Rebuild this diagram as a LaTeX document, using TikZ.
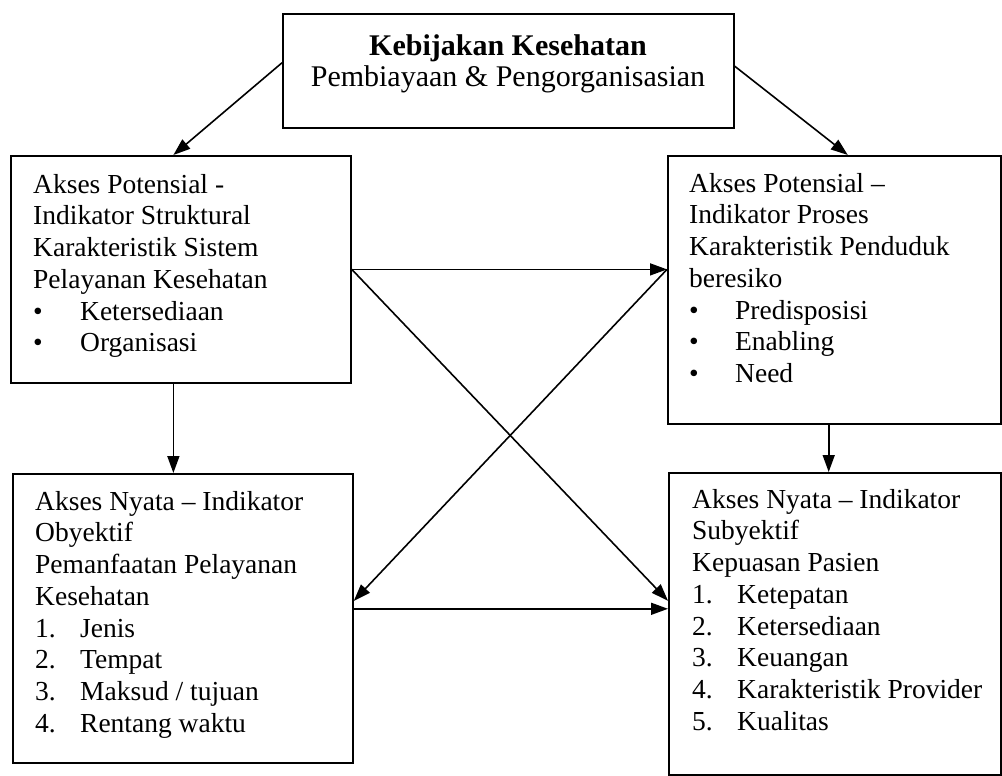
\documentclass[tikz,border=0pt]{standalone}
\usepackage{fontspec}
\setmainfont{Liberation Serif}
\usetikzlibrary{arrows.meta,calc}
\begin{document}
\begin{tikzpicture}[x=1pt,y=-1pt,
  box/.style={draw, line width=1.8pt, inner sep=0pt, anchor=north west},
  txt/.style={anchor=north west, inner sep=0pt, align=left, font=\fontsize{27.5}{31.7}\selectfont},
  toptxt/.style={anchor=north, inner sep=0pt, align=center, font=\fontsize{30}{31}\selectfont},
  conn/.style={line width=1.6pt, -{Triangle[length=17pt,width=12pt]}}]
\useasboundingbox[fill=white] (0,0) rectangle (1002,776);
% boxes
\node[box, minimum width=451pt, minimum height=114pt] (top) at (282,13) {};
\node[box, minimum width=340pt, minimum height=227pt] (tl) at (10,155) {};
\node[box, minimum width=333pt, minimum height=268pt] (tr) at (667,155) {};
\node[box, minimum width=340pt, minimum height=289pt] (bl) at (12,473) {};
\node[box, minimum width=332pt, minimum height=302pt] (br) at (668,472) {};
% texts
\node[toptxt] (toptext) at (508,34) {\textbf{Kebijakan Kesehatan}\\Pembiayaan \& Pengorganisasian};
\node[txt] (tltext) at (33,174) {Akses Potensial -\\Indikator Struktural\\Karakteristik Sistem\\Pelayanan Kesehatan\\\makebox[47pt][l]{\textbullet}Ketersediaan\\\makebox[47pt][l]{\textbullet}Organisasi};
\node[txt] (trtext) at (689,173) {Akses Potensial --\\Indikator Proses\\Karakteristik Penduduk\\beresiko\\\makebox[46pt][l]{\textbullet}Predisposisi\\\makebox[46pt][l]{\textbullet}Enabling\\\makebox[46pt][l]{\textbullet}Need};
\node[txt] (bltext) at (35,491) {Akses Nyata -- Indikator\\Obyektif\\Pemanfaatan Pelayanan\\Kesehatan\\\makebox[45pt][l]{1.}Jenis\\\makebox[45pt][l]{2.}Tempat\\\makebox[45pt][l]{3.}Maksud / tujuan\\\makebox[45pt][l]{4.}Rentang waktu};
\node[txt] (brtext) at (692,489) {Akses Nyata -- Indikator\\Subyektif\\Kepuasan Pasien\\\makebox[45pt][l]{1.}Ketepatan\\\makebox[45pt][l]{2.}Ketersediaan\\\makebox[45pt][l]{3.}Keuangan\\\makebox[45pt][l]{4.}Karakteristik Provider\\\makebox[45pt][l]{5.}Kualitas};
% connector points
\coordinate (topL) at ($(top.north west)!0.43!(top.south west)$);
\coordinate (topR) at ($(top.north east)!0.46!(top.south east)$);
\coordinate (tlIn) at ($(tl.north west)!0.478!(tl.north east)$);
\coordinate (trIn) at ($(tr.north west)!0.54!(tr.north east)$);
\coordinate (tlOut) at ($(tl.south west)!0.478!(tl.south east)$);
\coordinate (trOut) at ($(tr.south west)!0.483!(tr.south east)$);
\coordinate (tlR) at ($(tl.north east)!0.5!(tl.south east)$);
\coordinate (blR) at ($(bl.north east)!0.44!(bl.south east)$);
\coordinate (blR2) at ($(bl.north east)!0.467!(bl.south east)$);
\coordinate (brL) at ($(br.north west)!0.424!(br.south west)$);
% connectors
\draw[conn] (topL) -- (tlIn);
\draw[conn] (topR) -- (trIn);
\draw[conn] (tlR) -- (tlR -| tr.west);
\draw[conn] (tlR) -- (brL);
\draw[conn] (tlR -| tr.west) -- (blR);
\draw[conn] (blR2) -- (blR2 -| br.west);
\draw[conn] (tlOut) -- (tlOut |- bl.north);
\draw[conn] (trOut) -- (trOut |- br.north);
\end{tikzpicture}
\end{document}
